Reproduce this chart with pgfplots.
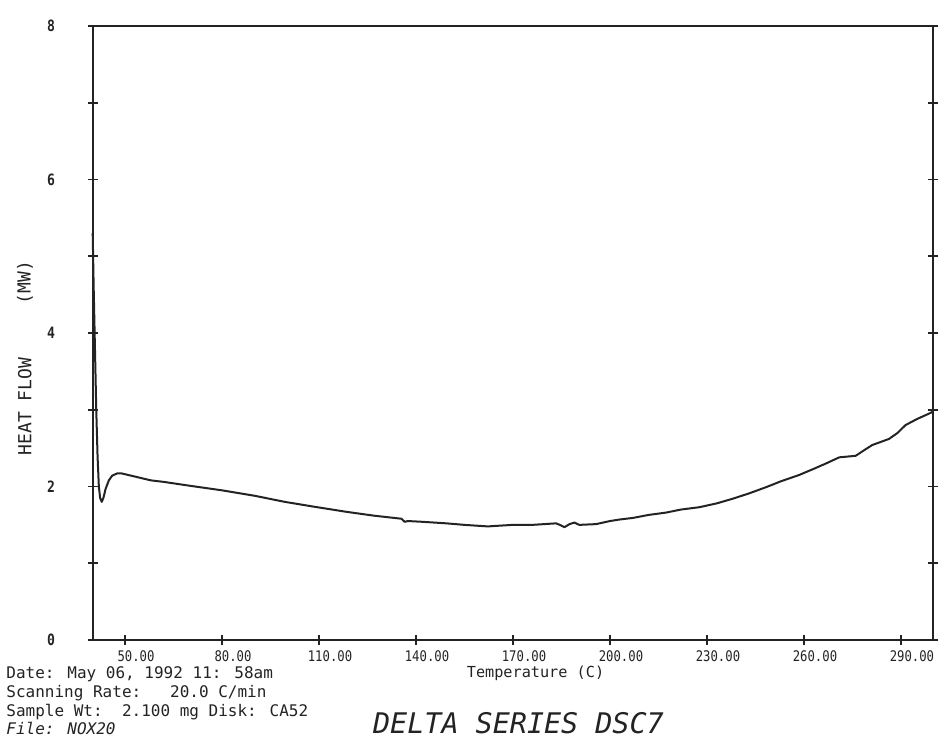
\documentclass[border=0pt]{standalone}
\usepackage{fontspec}
\setmainfont{DejaVu Sans Mono}
\newfontfamily\infofont{DejaVu Sans Mono}
\newfontfamily\tickfont{DejaVu Sans Mono}[FakeStretch=0.84]
\usepackage{pgfplots}
\pgfplotsset{compat=1.18}
\definecolor{ink}{RGB}{35,35,35}
\begin{document}
\begin{tikzpicture}
\begin{axis}[
  scale only axis, width=420.3pt, height=307pt,
  xmin=40, xmax=300, ymin=0, ymax=8,
  axis line style={line width=1pt, ink},
  xtick={50,80,...,290},
  xticklabels={50.00,80.00,110.00,140.00,170.00,200.00,230.00,260.00,290.00},
  ytick={0,1,...,8},
  yticklabels={0,,2,,4,,6,,8},
  xtick pos=lower,
  ytick pos=both,
  yticklabel pos=left,
  tick align=center,
  major tick length=5pt,
  tick style={line width=0.8pt, ink},
  xticklabel style={font=\tickfont\fontsize{7.3}{8}\selectfont, text=ink, anchor=center, xshift=5.5pt, yshift=-5.5pt},
  yticklabel style={font=\tickfont\fontsize{7.8}{8}\selectfont\bfseries, text=ink, anchor=center, xshift=-18.35pt},
  clip=false,
]
\addplot[ink, line width=1pt, line join=round] coordinates {
(40.0,5.3) (40.3,4.6) (40.7,3.8) (41.1,3.0) (41.5,2.4) (41.9,2.0)
(42.3,1.85) (42.8,1.80) (43.3,1.85) (44.0,1.97) (45.0,2.08) (46.0,2.14)
(47.5,2.17) (49.0,2.17) (51,2.15) (55,2.11) (58,2.08) (62,2.06)
(70,2.01) (80,1.95) (90,1.88) (99.4,1.80) (108,1.74) (118.5,1.67)
(127,1.62) (135.5,1.58) (136.5,1.54) (137.5,1.55) (142,1.54) (149.4,1.52)
(155,1.50) (162.2,1.48) (166,1.49) (169.9,1.50) (176,1.50) (183.3,1.52)
(184.5,1.50) (185.9,1.47) (187.5,1.51) (189,1.53) (190.5,1.50) (195.7,1.51)
(200,1.55) (203,1.57) (207,1.59) (212,1.63) (217.3,1.66) (222,1.70)
(227.6,1.73) (233,1.78) (237.9,1.84) (243,1.91) (248.2,1.99) (253,2.07)
(258.5,2.15) (263,2.23) (266.8,2.30) (270.9,2.38) (276,2.40) (278.5,2.47)
(281.1,2.54) (286.3,2.62) (289,2.70) (291.4,2.80) (295,2.88) (299.2,2.96)
(300,2.98)
};
\node[rotate=90, anchor=center, text=ink, font=\infofont\fontsize{9}{10}\selectfont] at (axis description cs:-0.0806,0.3803) {HEAT FLOW};
\node[rotate=90, anchor=center, text=ink, font=\infofont\fontsize{9}{10}\selectfont] at (axis description cs:-0.0806,0.5822) {(MW)};
\node[anchor=base, text=ink, font=\infofont\fontsize{7.6}{9}\selectfont, inner sep=0pt] at (axis description cs:0.5268,-0.0611) {Temperature (C)};
\node[anchor=base west, text=ink, font=\infofont\fontsize{8}{9}\selectfont, inner sep=0pt] at (axis description cs:-0.1031,-0.0627) {Date: May 06, 1992 11: 58am};
\node[anchor=base west, text=ink, font=\infofont\fontsize{8}{9}\selectfont, inner sep=0pt] at (axis description cs:-0.1031,-0.0936) {Scanning Rate:\ \ \ 20.0 C/min};
\node[anchor=base west, text=ink, font=\infofont\fontsize{8}{9}\selectfont, inner sep=0pt] at (axis description cs:-0.1031,-0.1238) {Sample Wt:\ \ 2.100 mg Disk: CA52};
\node[anchor=base west, text=ink, font=\infofont\itshape\fontsize{8}{9}\selectfont, inner sep=0pt] at (axis description cs:-0.1031,-0.1531) {File: NOX20};
\node[anchor=base, text=ink, font=\infofont\itshape\fontsize{14.2}{16}\selectfont, inner sep=0pt] at (axis description cs:0.5065,-0.1521) {DELTA SERIES DSC7};
\end{axis}
\pgfresetboundingbox
\path[use as bounding box] ([shift={(-46.35pt,-54.5pt)}]current axis.south west) rectangle ([shift={(3.35pt,13pt)}]current axis.north east);
\end{tikzpicture}
\end{document}
